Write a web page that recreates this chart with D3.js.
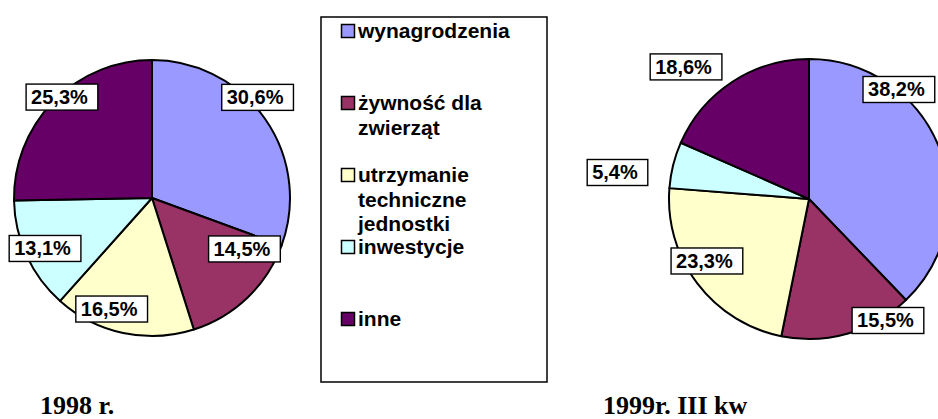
<!DOCTYPE html>
<html>
<head>
<meta charset="utf-8">
<script src="https://cdn.jsdelivr.net/npm/d3@7"></script>
<style>
  body { margin: 0; background: #fff; }
  svg { display: block; }
</style>
</head>
<body>
<div id="chart"></div>
<script>
// data
var categories = ["wynagrodzenia", "żywność dla zwierząt", "utrzymanie techniczne jednostki", "inwestycje", "inne"];
var legendLines = [["wynagrodzenia"], ["żywność dla", "zwierząt"], ["utrzymanie", "techniczne", "jednostki"], ["inwestycje"], ["inne"]];
var values1998 = [30.6, 14.5, 16.5, 13.1, 25.3];
var values1999 = [38.2, 15.5, 23.3, 5.4, 18.6];
var titles = ["1998 r.", "1999r. III kw"];
var colors = ["#9999FF", "#993366", "#FFFFCC", "#CCFFFF", "#660066"];

// label placement (radius factor, angle shift in degrees) relative to each slice
var labelPos1998 = [[1.057, -8.7], [0.765, -17.4], [0.856, 7.9], [0.857, -0.6], [0.98, 3.8]];
var labelPos1999 = [[1.012, -28.7], [1.035, -16.8], [0.853, 5.8], [1.381, -6.2], [1.289, -9.8]];

var width = 938, height = 419;

var svg = d3.select("#chart").append("svg")
  .attr("width", width)
  .attr("height", height);

svg.append("rect").attr("width", width).attr("height", height).attr("fill", "#fff");

var color = d3.scaleOrdinal().domain(categories).range(colors);

var pie = d3.pie().sort(null).value(function(d) { return d.value; });

function fmt(v) {
  return d3.format(".1f")(v).replace(".", ",") + "%";
}

function drawPie(values, cx, cy, r, labelPos, title, titleX) {
  var rows = categories.map(function(c, i) { return {cat: c, value: values[i]}; });
  var arcs = pie(rows);
  var arc = d3.arc().innerRadius(0).outerRadius(r);

  var g = svg.append("g").attr("transform", "translate(" + cx + "," + cy + ")");

  g.selectAll("path")
    .data(arcs)
    .enter()
    .append("path")
      .attr("d", arc)
      .attr("fill", function(d) { return color(d.data.cat); })
      .attr("stroke", "#000")
      .attr("stroke-width", 2)
      .attr("stroke-linejoin", "round");

  var lab = g.selectAll("g.lab")
    .data(arcs)
    .enter()
    .append("g")
      .attr("class", "lab")
      .attr("transform", function(d, i) {
        var mid = (d.startAngle + d.endAngle) / 2 + labelPos[i][1] * Math.PI / 180;
        var rr = r * labelPos[i][0];
        var p = d3.arc().innerRadius(rr).outerRadius(rr).startAngle(mid).endAngle(mid).centroid();
        return "translate(" + p[0] + "," + p[1] + ")";
      });

  lab.append("text")
    .attr("font-family", "Liberation Sans, Arial, sans-serif")
    .attr("font-weight", "bold")
    .attr("font-size", "20px")
    .attr("fill", "#000")
    .text(function(d) { return fmt(d.data.value); })
    .each(function() {
      var t = d3.select(this);
      var w = this.getComputedTextLength();
      var bw = w + 15, bh = 26;
      t.attr("x", -bw / 2 + 5).attr("y", 7);
      d3.select(this.parentNode).insert("rect", "text")
        .attr("x", -bw / 2)
        .attr("y", -bh / 2)
        .attr("width", bw)
        .attr("height", bh)
        .attr("fill", "#fff")
        .attr("stroke", "#000")
        .attr("stroke-width", 1.4);
    });

  svg.append("text")
    .attr("x", titleX)
    .attr("y", 414)
    .attr("font-family", "Liberation Serif, Times New Roman, serif")
    .attr("font-weight", "bold")
    .attr("font-size", "26px")
    .attr("fill", "#000")
    .text(title);
}

drawPie(values1998, 152, 198, 138, labelPos1998, titles[0], 40);
drawPie(values1999, 809, 199, 140, labelPos1999, titles[1], 603);

// legend
var legend = svg.append("g");
legend.append("rect")
  .attr("x", 321)
  .attr("y", 17)
  .attr("width", 226)
  .attr("height", 365)
  .attr("fill", "#fff")
  .attr("stroke", "#000")
  .attr("stroke-width", 1.5);

var ly = d3.scalePoint().domain(categories).range([31, 319]);

var item = legend.selectAll("g.item")
  .data(categories)
  .enter()
  .append("g")
    .attr("class", "item")
    .attr("transform", function(d) { return "translate(341," + ly(d) + ")"; });

item.append("rect")
  .attr("x", 0.5)
  .attr("y", -6.5)
  .attr("width", 13)
  .attr("height", 13)
  .attr("fill", function(d) { return color(d); })
  .attr("stroke", "#000")
  .attr("stroke-width", 1.5);

item.append("text")
  .attr("font-family", "Liberation Sans, Arial, sans-serif")
  .attr("font-weight", "bold")
  .attr("font-size", "21px")
  .attr("fill", "#000")
  .selectAll("tspan")
  .data(function(d, i) { return legendLines[i]; })
  .enter()
  .append("tspan")
    .attr("x", 17)
    .attr("y", function(d, j) { return 7 + j * 24.5; })
    .text(function(d) { return d; });
</script>
</body>
</html>
